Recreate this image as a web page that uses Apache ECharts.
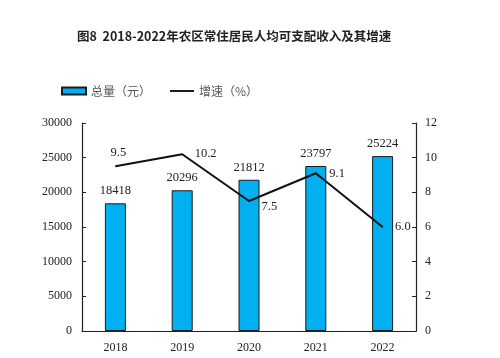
<!DOCTYPE html>
<html>
<head>
<meta charset="utf-8">
<script src="https://cdn.jsdelivr.net/npm/echarts@6/dist/echarts.min.js"></script>
<style>html,body{margin:0;padding:0;background:#fff}#c{width:500px;height:358px}</style>
</head>
<body>
<div id="c"></div>
<script>
const titleText = '图8  2018-2022年农区常住居民人均可支配收入及其增速';
const categories = ['2018', '2019', '2020', '2021', '2022'];
const totalValues = [18418, 20296, 21812, 23797, 25224];
const growthValues = [9.5, 10.2, 7.5, 9.1, 6.0];
const seriesNames = ['总量（元）', '增速（%）'];

const serif = '"Liberation Serif", "Times New Roman", serif';
const cjk = '"Noto Sans CJK SC", sans-serif';

const growthLabelPos = [
  {position: 'top', distance: 7, offset: [3, 0]},
  {position: 'right', distance: 12, offset: [0, 0]},
  {position: 'right', distance: 12, offset: [0, 6]},
  {position: 'right', distance: 13, offset: [0, 0]},
  {position: 'right', distance: 12, offset: [0, 0]}
];

const chart = echarts.init(document.getElementById('c'));
chart.setOption({
  animation: false,
  backgroundColor: '#fff',
  title: {
    text: titleText,
    left: 72, top: 25,
    textStyle: {fontFamily: cjk, fontSize: 12.5, fontWeight: 'bold', color: '#222'}
  },
  legend: {
    left: 56, top: 80,
    itemWidth: 24, itemHeight: 7, itemGap: 19,
    textStyle: {fontFamily: cjk, fontSize: 12, color: '#555'},
    data: [
      {name: seriesNames[0], icon: 'rect'},
      {name: seriesNames[1], icon: 'path://M0,0H25V2H0Z', itemStyle: {color: '#111'}}
    ]
  },
  grid: {left: 82, right: 84, top: 123, bottom: 27},
  xAxis: {
    type: 'category',
    data: categories,
    boundaryGap: true,
    axisLine: {lineStyle: {color: '#222', width: 1.2}},
    axisTick: {inside: true, length: 4, lineStyle: {color: '#222'}},
    axisLabel: {fontFamily: serif, fontSize: 12, color: '#222', margin: 11}
  },
  yAxis: [
    {
      type: 'value', min: 0, max: 30000, interval: 5000,
      axisLine: {show: true, lineStyle: {color: '#222', width: 1.2}},
      axisTick: {show: true, inside: true, length: 4, lineStyle: {color: '#222'}},
      axisLabel: {fontFamily: serif, fontSize: 12, color: '#222', margin: 10, formatter: v => String(v)},
      splitLine: {show: false}
    },
    {
      type: 'value', min: 0, max: 12, interval: 2, position: 'right',
      axisLine: {show: true, lineStyle: {color: '#222', width: 1.2}},
      axisTick: {show: true, inside: true, length: 4, lineStyle: {color: '#222'}},
      axisLabel: {fontFamily: serif, fontSize: 12, color: '#222', margin: 9},
      splitLine: {show: false}
    }
  ],
  series: [
    {
      name: seriesNames[0],
      type: 'bar',
      data: totalValues,
      barWidth: 21,
      itemStyle: {color: '#00B0F0', borderColor: '#1a1a1a', borderWidth: 1},
      label: {show: true, position: 'top', distance: 6, fontFamily: serif, fontSize: 12.5, color: '#222'}
    },
    {
      name: seriesNames[1],
      type: 'line',
      yAxisIndex: 1,
      symbol: 'circle',
      symbolSize: 1,
      showSymbol: true,
      data: growthValues.map((v, i) => ({
        value: v,
        label: Object.assign({show: true}, growthLabelPos[i])
      })),
      lineStyle: {color: '#111', width: 2},
      itemStyle: {color: '#111'},
      label: {show: true, fontFamily: serif, fontSize: 12.5, color: '#222', formatter: p => p.value.toFixed(1)}
    }
  ]
});
</script>
</body>
</html>
